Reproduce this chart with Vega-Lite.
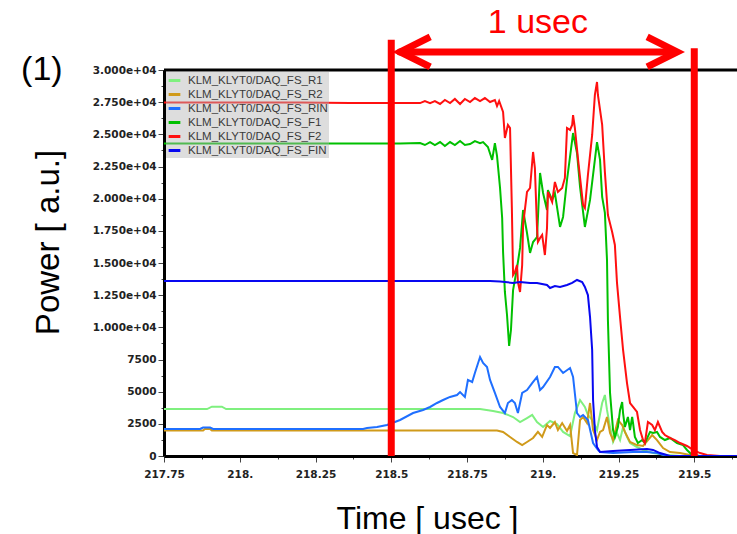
{
  "$schema": "https://vega.github.io/schema/vega-lite/v6.json",
  "width": 573,
  "height": 386,
  "autosize": {"type": "none"},
  "padding": {"left": 164, "top": 70, "right": 0, "bottom": 78},
  "background": "white",
  "config": {"view": {"stroke": null}, "font": "Liberation Sans"},
  "layer": [
    {
      "data": {"values": [
        {"s":"KLM_KLYT0/DAQ_FS_R1","t":217.75,"p":3650},
        {"s":"KLM_KLYT0/DAQ_FS_R1","t":217.892,"p":3650},
        {"s":"KLM_KLYT0/DAQ_FS_R1","t":217.908,"p":3830},
        {"s":"KLM_KLYT0/DAQ_FS_R1","t":217.941,"p":3830},
        {"s":"KLM_KLYT0/DAQ_FS_R1","t":217.955,"p":3650},
        {"s":"KLM_KLYT0/DAQ_FS_R1","t":218.793,"p":3650},
        {"s":"KLM_KLYT0/DAQ_FS_R1","t":218.836,"p":3500},
        {"s":"KLM_KLYT0/DAQ_FS_R1","t":218.869,"p":3340},
        {"s":"KLM_KLYT0/DAQ_FS_R1","t":218.902,"p":3030},
        {"s":"KLM_KLYT0/DAQ_FS_R1","t":218.925,"p":2640},
        {"s":"KLM_KLYT0/DAQ_FS_R1","t":218.948,"p":2950},
        {"s":"KLM_KLYT0/DAQ_FS_R1","t":218.965,"p":3190},
        {"s":"KLM_KLYT0/DAQ_FS_R1","t":218.981,"p":2640},
        {"s":"KLM_KLYT0/DAQ_FS_R1","t":219.001,"p":2250},
        {"s":"KLM_KLYT0/DAQ_FS_R1","t":219.024,"p":2720},
        {"s":"KLM_KLYT0/DAQ_FS_R1","t":219.047,"p":2490},
        {"s":"KLM_KLYT0/DAQ_FS_R1","t":219.067,"p":1870},
        {"s":"KLM_KLYT0/DAQ_FS_R1","t":219.09,"p":1550},
        {"s":"KLM_KLYT0/DAQ_FS_R1","t":219.106,"p":3340},
        {"s":"KLM_KLYT0/DAQ_FS_R1","t":219.123,"p":4350},
        {"s":"KLM_KLYT0/DAQ_FS_R1","t":219.139,"p":3810},
        {"s":"KLM_KLYT0/DAQ_FS_R1","t":219.149,"p":3190},
        {"s":"KLM_KLYT0/DAQ_FS_R1","t":219.163,"p":2800},
        {"s":"KLM_KLYT0/DAQ_FS_R1","t":219.179,"p":2020},
        {"s":"KLM_KLYT0/DAQ_FS_R1","t":219.196,"p":4120},
        {"s":"KLM_KLYT0/DAQ_FS_R1","t":219.205,"p":4740},
        {"s":"KLM_KLYT0/DAQ_FS_R1","t":219.212,"p":3580},
        {"s":"KLM_KLYT0/DAQ_FS_R1","t":219.222,"p":2250},
        {"s":"KLM_KLYT0/DAQ_FS_R1","t":219.232,"p":1090},
        {"s":"KLM_KLYT0/DAQ_FS_R1","t":219.245,"p":1790},
        {"s":"KLM_KLYT0/DAQ_FS_R1","t":219.255,"p":1240},
        {"s":"KLM_KLYT0/DAQ_FS_R1","t":219.265,"p":2250},
        {"s":"KLM_KLYT0/DAQ_FS_R1","t":219.278,"p":1480},
        {"s":"KLM_KLYT0/DAQ_FS_R1","t":219.288,"p":1010},
        {"s":"KLM_KLYT0/DAQ_FS_R1","t":219.311,"p":700},
        {"s":"KLM_KLYT0/DAQ_FS_R1","t":219.331,"p":470},
        {"s":"KLM_KLYT0/DAQ_FS_R1","t":219.364,"p":230},
        {"s":"KLM_KLYT0/DAQ_FS_R1","t":219.41,"p":80},
        {"s":"KLM_KLYT0/DAQ_FS_R1","t":219.453,"p":0},
        {"s":"KLM_KLYT0/DAQ_FS_R1","t":219.641,"p":0},

        {"s":"KLM_KLYT0/DAQ_FS_R2","t":217.75,"p":1980},
        {"s":"KLM_KLYT0/DAQ_FS_R2","t":217.879,"p":1980},
        {"s":"KLM_KLYT0/DAQ_FS_R2","t":217.885,"p":2100},
        {"s":"KLM_KLYT0/DAQ_FS_R2","t":217.902,"p":2100},
        {"s":"KLM_KLYT0/DAQ_FS_R2","t":217.908,"p":1980},
        {"s":"KLM_KLYT0/DAQ_FS_R2","t":218.849,"p":1980},
        {"s":"KLM_KLYT0/DAQ_FS_R2","t":218.869,"p":1870},
        {"s":"KLM_KLYT0/DAQ_FS_R2","t":218.892,"p":1480},
        {"s":"KLM_KLYT0/DAQ_FS_R2","t":218.915,"p":1090},
        {"s":"KLM_KLYT0/DAQ_FS_R2","t":218.932,"p":850},
        {"s":"KLM_KLYT0/DAQ_FS_R2","t":218.948,"p":1090},
        {"s":"KLM_KLYT0/DAQ_FS_R2","t":218.968,"p":1400},
        {"s":"KLM_KLYT0/DAQ_FS_R2","t":218.984,"p":1870},
        {"s":"KLM_KLYT0/DAQ_FS_R2","t":218.998,"p":1480},
        {"s":"KLM_KLYT0/DAQ_FS_R2","t":219.014,"p":2410},
        {"s":"KLM_KLYT0/DAQ_FS_R2","t":219.024,"p":2180},
        {"s":"KLM_KLYT0/DAQ_FS_R2","t":219.04,"p":2640},
        {"s":"KLM_KLYT0/DAQ_FS_R2","t":219.05,"p":2020},
        {"s":"KLM_KLYT0/DAQ_FS_R2","t":219.064,"p":2560},
        {"s":"KLM_KLYT0/DAQ_FS_R2","t":219.08,"p":1940},
        {"s":"KLM_KLYT0/DAQ_FS_R2","t":219.09,"p":2410},
        {"s":"KLM_KLYT0/DAQ_FS_R2","t":219.1,"p":230},
        {"s":"KLM_KLYT0/DAQ_FS_R2","t":219.113,"p":80},
        {"s":"KLM_KLYT0/DAQ_FS_R2","t":219.123,"p":2800},
        {"s":"KLM_KLYT0/DAQ_FS_R2","t":219.133,"p":3030},
        {"s":"KLM_KLYT0/DAQ_FS_R2","t":219.146,"p":2560},
        {"s":"KLM_KLYT0/DAQ_FS_R2","t":219.156,"p":4120},
        {"s":"KLM_KLYT0/DAQ_FS_R2","t":219.166,"p":2020},
        {"s":"KLM_KLYT0/DAQ_FS_R2","t":219.179,"p":1240},
        {"s":"KLM_KLYT0/DAQ_FS_R2","t":219.189,"p":1870},
        {"s":"KLM_KLYT0/DAQ_FS_R2","t":219.199,"p":2020},
        {"s":"KLM_KLYT0/DAQ_FS_R2","t":219.212,"p":3030},
        {"s":"KLM_KLYT0/DAQ_FS_R2","t":219.222,"p":1790},
        {"s":"KLM_KLYT0/DAQ_FS_R2","t":219.232,"p":1240},
        {"s":"KLM_KLYT0/DAQ_FS_R2","t":219.248,"p":2800},
        {"s":"KLM_KLYT0/DAQ_FS_R2","t":219.262,"p":2410},
        {"s":"KLM_KLYT0/DAQ_FS_R2","t":219.271,"p":1870},
        {"s":"KLM_KLYT0/DAQ_FS_R2","t":219.288,"p":1090},
        {"s":"KLM_KLYT0/DAQ_FS_R2","t":219.311,"p":850},
        {"s":"KLM_KLYT0/DAQ_FS_R2","t":219.331,"p":780},
        {"s":"KLM_KLYT0/DAQ_FS_R2","t":219.361,"p":1630},
        {"s":"KLM_KLYT0/DAQ_FS_R2","t":219.377,"p":1240},
        {"s":"KLM_KLYT0/DAQ_FS_R2","t":219.397,"p":620},
        {"s":"KLM_KLYT0/DAQ_FS_R2","t":219.42,"p":310},
        {"s":"KLM_KLYT0/DAQ_FS_R2","t":219.453,"p":230},
        {"s":"KLM_KLYT0/DAQ_FS_R2","t":219.486,"p":80},
        {"s":"KLM_KLYT0/DAQ_FS_R2","t":219.519,"p":0},
        {"s":"KLM_KLYT0/DAQ_FS_R2","t":219.641,"p":0},

        {"s":"KLM_KLYT0/DAQ_FS_RIN","t":217.75,"p":2100},
        {"s":"KLM_KLYT0/DAQ_FS_RIN","t":217.869,"p":2100},
        {"s":"KLM_KLYT0/DAQ_FS_RIN","t":217.879,"p":2215},
        {"s":"KLM_KLYT0/DAQ_FS_RIN","t":217.902,"p":2215},
        {"s":"KLM_KLYT0/DAQ_FS_RIN","t":217.912,"p":2100},
        {"s":"KLM_KLYT0/DAQ_FS_RIN","t":218.407,"p":2100},
        {"s":"KLM_KLYT0/DAQ_FS_RIN","t":218.42,"p":2180},
        {"s":"KLM_KLYT0/DAQ_FS_RIN","t":218.453,"p":2250},
        {"s":"KLM_KLYT0/DAQ_FS_RIN","t":218.486,"p":2410},
        {"s":"KLM_KLYT0/DAQ_FS_RIN","t":218.529,"p":2800},
        {"s":"KLM_KLYT0/DAQ_FS_RIN","t":218.572,"p":3340},
        {"s":"KLM_KLYT0/DAQ_FS_RIN","t":218.605,"p":3580},
        {"s":"KLM_KLYT0/DAQ_FS_RIN","t":218.628,"p":3810},
        {"s":"KLM_KLYT0/DAQ_FS_RIN","t":218.651,"p":4120},
        {"s":"KLM_KLYT0/DAQ_FS_RIN","t":218.671,"p":4350},
        {"s":"KLM_KLYT0/DAQ_FS_RIN","t":218.694,"p":4590},
        {"s":"KLM_KLYT0/DAQ_FS_RIN","t":218.717,"p":4740},
        {"s":"KLM_KLYT0/DAQ_FS_RIN","t":218.727,"p":4970},
        {"s":"KLM_KLYT0/DAQ_FS_RIN","t":218.743,"p":4590},
        {"s":"KLM_KLYT0/DAQ_FS_RIN","t":218.753,"p":5910},
        {"s":"KLM_KLYT0/DAQ_FS_RIN","t":218.767,"p":5750},
        {"s":"KLM_KLYT0/DAQ_FS_RIN","t":218.776,"p":6450},
        {"s":"KLM_KLYT0/DAQ_FS_RIN","t":218.793,"p":7690},
        {"s":"KLM_KLYT0/DAQ_FS_RIN","t":218.803,"p":7230},
        {"s":"KLM_KLYT0/DAQ_FS_RIN","t":218.816,"p":6920},
        {"s":"KLM_KLYT0/DAQ_FS_RIN","t":218.826,"p":5910},
        {"s":"KLM_KLYT0/DAQ_FS_RIN","t":218.842,"p":4900},
        {"s":"KLM_KLYT0/DAQ_FS_RIN","t":218.859,"p":3810},
        {"s":"KLM_KLYT0/DAQ_FS_RIN","t":218.875,"p":3340},
        {"s":"KLM_KLYT0/DAQ_FS_RIN","t":218.885,"p":4120},
        {"s":"KLM_KLYT0/DAQ_FS_RIN","t":218.898,"p":4350},
        {"s":"KLM_KLYT0/DAQ_FS_RIN","t":218.908,"p":4120},
        {"s":"KLM_KLYT0/DAQ_FS_RIN","t":218.918,"p":3340},
        {"s":"KLM_KLYT0/DAQ_FS_RIN","t":218.932,"p":4900},
        {"s":"KLM_KLYT0/DAQ_FS_RIN","t":218.948,"p":5130},
        {"s":"KLM_KLYT0/DAQ_FS_RIN","t":218.965,"p":5670},
        {"s":"KLM_KLYT0/DAQ_FS_RIN","t":218.981,"p":6140},
        {"s":"KLM_KLYT0/DAQ_FS_RIN","t":218.991,"p":5130},
        {"s":"KLM_KLYT0/DAQ_FS_RIN","t":219.001,"p":5360},
        {"s":"KLM_KLYT0/DAQ_FS_RIN","t":219.024,"p":6140},
        {"s":"KLM_KLYT0/DAQ_FS_RIN","t":219.04,"p":6920},
        {"s":"KLM_KLYT0/DAQ_FS_RIN","t":219.05,"p":6920},
        {"s":"KLM_KLYT0/DAQ_FS_RIN","t":219.067,"p":6450},
        {"s":"KLM_KLYT0/DAQ_FS_RIN","t":219.09,"p":6840},
        {"s":"KLM_KLYT0/DAQ_FS_RIN","t":219.1,"p":6140},
        {"s":"KLM_KLYT0/DAQ_FS_RIN","t":219.113,"p":3340},
        {"s":"KLM_KLYT0/DAQ_FS_RIN","t":219.123,"p":3030},
        {"s":"KLM_KLYT0/DAQ_FS_RIN","t":219.133,"p":3190},
        {"s":"KLM_KLYT0/DAQ_FS_RIN","t":219.149,"p":2800},
        {"s":"KLM_KLYT0/DAQ_FS_RIN","t":219.166,"p":1010},
        {"s":"KLM_KLYT0/DAQ_FS_RIN","t":219.182,"p":470},
        {"s":"KLM_KLYT0/DAQ_FS_RIN","t":219.189,"p":310},
        {"s":"KLM_KLYT0/DAQ_FS_RIN","t":219.232,"p":230},
        {"s":"KLM_KLYT0/DAQ_FS_RIN","t":219.298,"p":310},
        {"s":"KLM_KLYT0/DAQ_FS_RIN","t":219.344,"p":310},
        {"s":"KLM_KLYT0/DAQ_FS_RIN","t":219.377,"p":230},
        {"s":"KLM_KLYT0/DAQ_FS_RIN","t":219.41,"p":0},
        {"s":"KLM_KLYT0/DAQ_FS_RIN","t":219.641,"p":0},

        {"s":"KLM_KLYT0/DAQ_FS_F1","t":217.75,"p":24290},
        {"s":"KLM_KLYT0/DAQ_FS_F1","t":218.199,"p":24290},
        {"s":"KLM_KLYT0/DAQ_FS_F1","t":218.529,"p":24290},
        {"s":"KLM_KLYT0/DAQ_FS_F1","t":218.595,"p":24320},
        {"s":"KLM_KLYT0/DAQ_FS_F1","t":218.611,"p":24170},
        {"s":"KLM_KLYT0/DAQ_FS_F1","t":218.628,"p":24400},
        {"s":"KLM_KLYT0/DAQ_FS_F1","t":218.644,"p":24170},
        {"s":"KLM_KLYT0/DAQ_FS_F1","t":218.661,"p":24400},
        {"s":"KLM_KLYT0/DAQ_FS_F1","t":218.677,"p":24090},
        {"s":"KLM_KLYT0/DAQ_FS_F1","t":218.694,"p":24400},
        {"s":"KLM_KLYT0/DAQ_FS_F1","t":218.71,"p":24170},
        {"s":"KLM_KLYT0/DAQ_FS_F1","t":218.727,"p":24480},
        {"s":"KLM_KLYT0/DAQ_FS_F1","t":218.743,"p":24170},
        {"s":"KLM_KLYT0/DAQ_FS_F1","t":218.76,"p":24250},
        {"s":"KLM_KLYT0/DAQ_FS_F1","t":218.776,"p":24480},
        {"s":"KLM_KLYT0/DAQ_FS_F1","t":218.793,"p":24320},
        {"s":"KLM_KLYT0/DAQ_FS_F1","t":218.803,"p":24400},
        {"s":"KLM_KLYT0/DAQ_FS_F1","t":218.819,"p":24020},
        {"s":"KLM_KLYT0/DAQ_FS_F1","t":218.833,"p":23010},
        {"s":"KLM_KLYT0/DAQ_FS_F1","t":218.842,"p":24320},
        {"s":"KLM_KLYT0/DAQ_FS_F1","t":218.849,"p":23320},
        {"s":"KLM_KLYT0/DAQ_FS_F1","t":218.859,"p":20830},
        {"s":"KLM_KLYT0/DAQ_FS_F1","t":218.866,"p":18500},
        {"s":"KLM_KLYT0/DAQ_FS_F1","t":218.869,"p":15850},
        {"s":"KLM_KLYT0/DAQ_FS_F1","t":218.875,"p":12750},
        {"s":"KLM_KLYT0/DAQ_FS_F1","t":218.882,"p":10960},
        {"s":"KLM_KLYT0/DAQ_FS_F1","t":218.889,"p":8550},
        {"s":"KLM_KLYT0/DAQ_FS_F1","t":218.895,"p":9790},
        {"s":"KLM_KLYT0/DAQ_FS_F1","t":218.902,"p":12900},
        {"s":"KLM_KLYT0/DAQ_FS_F1","t":218.915,"p":14610},
        {"s":"KLM_KLYT0/DAQ_FS_F1","t":218.925,"p":16170},
        {"s":"KLM_KLYT0/DAQ_FS_F1","t":218.935,"p":19120},
        {"s":"KLM_KLYT0/DAQ_FS_F1","t":218.948,"p":17330},
        {"s":"KLM_KLYT0/DAQ_FS_F1","t":218.958,"p":15780},
        {"s":"KLM_KLYT0/DAQ_FS_F1","t":218.968,"p":16630},
        {"s":"KLM_KLYT0/DAQ_FS_F1","t":218.981,"p":17020},
        {"s":"KLM_KLYT0/DAQ_FS_F1","t":218.991,"p":22000},
        {"s":"KLM_KLYT0/DAQ_FS_F1","t":219.001,"p":20440},
        {"s":"KLM_KLYT0/DAQ_FS_F1","t":219.014,"p":19120},
        {"s":"KLM_KLYT0/DAQ_FS_F1","t":219.017,"p":20670},
        {"s":"KLM_KLYT0/DAQ_FS_F1","t":219.031,"p":19900},
        {"s":"KLM_KLYT0/DAQ_FS_F1","t":219.04,"p":20440},
        {"s":"KLM_KLYT0/DAQ_FS_F1","t":219.057,"p":17800},
        {"s":"KLM_KLYT0/DAQ_FS_F1","t":219.067,"p":18580},
        {"s":"KLM_KLYT0/DAQ_FS_F1","t":219.08,"p":21450},
        {"s":"KLM_KLYT0/DAQ_FS_F1","t":219.1,"p":25100},
        {"s":"KLM_KLYT0/DAQ_FS_F1","t":219.113,"p":23550},
        {"s":"KLM_KLYT0/DAQ_FS_F1","t":219.123,"p":20910},
        {"s":"KLM_KLYT0/DAQ_FS_F1","t":219.139,"p":17800},
        {"s":"KLM_KLYT0/DAQ_FS_F1","t":219.156,"p":19900},
        {"s":"KLM_KLYT0/DAQ_FS_F1","t":219.179,"p":24400},
        {"s":"KLM_KLYT0/DAQ_FS_F1","t":219.189,"p":23010},
        {"s":"KLM_KLYT0/DAQ_FS_F1","t":219.196,"p":20130},
        {"s":"KLM_KLYT0/DAQ_FS_F1","t":219.205,"p":18890},
        {"s":"KLM_KLYT0/DAQ_FS_F1","t":219.212,"p":15230},
        {"s":"KLM_KLYT0/DAQ_FS_F1","t":219.215,"p":10570},
        {"s":"KLM_KLYT0/DAQ_FS_F1","t":219.222,"p":4900},
        {"s":"KLM_KLYT0/DAQ_FS_F1","t":219.232,"p":2020},
        {"s":"KLM_KLYT0/DAQ_FS_F1","t":219.238,"p":1480},
        {"s":"KLM_KLYT0/DAQ_FS_F1","t":219.248,"p":2250},
        {"s":"KLM_KLYT0/DAQ_FS_F1","t":219.255,"p":3580},
        {"s":"KLM_KLYT0/DAQ_FS_F1","t":219.262,"p":4200},
        {"s":"KLM_KLYT0/DAQ_FS_F1","t":219.265,"p":3340},
        {"s":"KLM_KLYT0/DAQ_FS_F1","t":219.271,"p":2250},
        {"s":"KLM_KLYT0/DAQ_FS_F1","t":219.281,"p":3030},
        {"s":"KLM_KLYT0/DAQ_FS_F1","t":219.288,"p":2020},
        {"s":"KLM_KLYT0/DAQ_FS_F1","t":219.295,"p":3030},
        {"s":"KLM_KLYT0/DAQ_FS_F1","t":219.298,"p":2560},
        {"s":"KLM_KLYT0/DAQ_FS_F1","t":219.304,"p":1480},
        {"s":"KLM_KLYT0/DAQ_FS_F1","t":219.314,"p":1010},
        {"s":"KLM_KLYT0/DAQ_FS_F1","t":219.328,"p":1240},
        {"s":"KLM_KLYT0/DAQ_FS_F1","t":219.337,"p":1010},
        {"s":"KLM_KLYT0/DAQ_FS_F1","t":219.354,"p":1870},
        {"s":"KLM_KLYT0/DAQ_FS_F1","t":219.364,"p":1790},
        {"s":"KLM_KLYT0/DAQ_FS_F1","t":219.377,"p":1870},
        {"s":"KLM_KLYT0/DAQ_FS_F1","t":219.387,"p":1480},
        {"s":"KLM_KLYT0/DAQ_FS_F1","t":219.403,"p":1240},
        {"s":"KLM_KLYT0/DAQ_FS_F1","t":219.42,"p":1400},
        {"s":"KLM_KLYT0/DAQ_FS_F1","t":219.443,"p":1010},
        {"s":"KLM_KLYT0/DAQ_FS_F1","t":219.463,"p":850},
        {"s":"KLM_KLYT0/DAQ_FS_F1","t":219.476,"p":470},
        {"s":"KLM_KLYT0/DAQ_FS_F1","t":219.493,"p":80},
        {"s":"KLM_KLYT0/DAQ_FS_F1","t":219.519,"p":0},
        {"s":"KLM_KLYT0/DAQ_FS_F1","t":219.641,"p":0},

        {"s":"KLM_KLYT0/DAQ_FS_F2","t":217.75,"p":27470},
        {"s":"KLM_KLYT0/DAQ_FS_F2","t":218.034,"p":27470},
        {"s":"KLM_KLYT0/DAQ_FS_F2","t":218.199,"p":27470},
        {"s":"KLM_KLYT0/DAQ_FS_F2","t":218.364,"p":27430},
        {"s":"KLM_KLYT0/DAQ_FS_F2","t":218.529,"p":27430},
        {"s":"KLM_KLYT0/DAQ_FS_F2","t":218.595,"p":27430},
        {"s":"KLM_KLYT0/DAQ_FS_F2","t":218.611,"p":27590},
        {"s":"KLM_KLYT0/DAQ_FS_F2","t":218.628,"p":27430},
        {"s":"KLM_KLYT0/DAQ_FS_F2","t":218.644,"p":27590},
        {"s":"KLM_KLYT0/DAQ_FS_F2","t":218.661,"p":27360},
        {"s":"KLM_KLYT0/DAQ_FS_F2","t":218.677,"p":27670},
        {"s":"KLM_KLYT0/DAQ_FS_F2","t":218.694,"p":27430},
        {"s":"KLM_KLYT0/DAQ_FS_F2","t":218.71,"p":27750},
        {"s":"KLM_KLYT0/DAQ_FS_F2","t":218.727,"p":27360},
        {"s":"KLM_KLYT0/DAQ_FS_F2","t":218.743,"p":27750},
        {"s":"KLM_KLYT0/DAQ_FS_F2","t":218.76,"p":27510},
        {"s":"KLM_KLYT0/DAQ_FS_F2","t":218.776,"p":27820},
        {"s":"KLM_KLYT0/DAQ_FS_F2","t":218.793,"p":27590},
        {"s":"KLM_KLYT0/DAQ_FS_F2","t":218.809,"p":27820},
        {"s":"KLM_KLYT0/DAQ_FS_F2","t":218.826,"p":27510},
        {"s":"KLM_KLYT0/DAQ_FS_F2","t":218.842,"p":27670},
        {"s":"KLM_KLYT0/DAQ_FS_F2","t":218.849,"p":27200},
        {"s":"KLM_KLYT0/DAQ_FS_F2","t":218.856,"p":27590},
        {"s":"KLM_KLYT0/DAQ_FS_F2","t":218.869,"p":26740},
        {"s":"KLM_KLYT0/DAQ_FS_F2","t":218.875,"p":24720},
        {"s":"KLM_KLYT0/DAQ_FS_F2","t":218.885,"p":25730},
        {"s":"KLM_KLYT0/DAQ_FS_F2","t":218.892,"p":25490},
        {"s":"KLM_KLYT0/DAQ_FS_F2","t":218.898,"p":19270},
        {"s":"KLM_KLYT0/DAQ_FS_F2","t":218.902,"p":14070},
        {"s":"KLM_KLYT0/DAQ_FS_F2","t":218.908,"p":14300},
        {"s":"KLM_KLYT0/DAQ_FS_F2","t":218.915,"p":14840},
        {"s":"KLM_KLYT0/DAQ_FS_F2","t":218.918,"p":13520},
        {"s":"KLM_KLYT0/DAQ_FS_F2","t":218.925,"p":12750},
        {"s":"KLM_KLYT0/DAQ_FS_F2","t":218.932,"p":14840},
        {"s":"KLM_KLYT0/DAQ_FS_F2","t":218.935,"p":17950},
        {"s":"KLM_KLYT0/DAQ_FS_F2","t":218.948,"p":20520},
        {"s":"KLM_KLYT0/DAQ_FS_F2","t":218.958,"p":20830},
        {"s":"KLM_KLYT0/DAQ_FS_F2","t":218.968,"p":23630},
        {"s":"KLM_KLYT0/DAQ_FS_F2","t":218.974,"p":22380},
        {"s":"KLM_KLYT0/DAQ_FS_F2","t":218.981,"p":17720},
        {"s":"KLM_KLYT0/DAQ_FS_F2","t":218.984,"p":16630},
        {"s":"KLM_KLYT0/DAQ_FS_F2","t":218.991,"p":16940},
        {"s":"KLM_KLYT0/DAQ_FS_F2","t":218.998,"p":17180},
        {"s":"KLM_KLYT0/DAQ_FS_F2","t":219.007,"p":15620},
        {"s":"KLM_KLYT0/DAQ_FS_F2","t":219.014,"p":17720},
        {"s":"KLM_KLYT0/DAQ_FS_F2","t":219.017,"p":20520},
        {"s":"KLM_KLYT0/DAQ_FS_F2","t":219.031,"p":19740},
        {"s":"KLM_KLYT0/DAQ_FS_F2","t":219.04,"p":21300},
        {"s":"KLM_KLYT0/DAQ_FS_F2","t":219.05,"p":20520},
        {"s":"KLM_KLYT0/DAQ_FS_F2","t":219.064,"p":20830},
        {"s":"KLM_KLYT0/DAQ_FS_F2","t":219.073,"p":21610},
        {"s":"KLM_KLYT0/DAQ_FS_F2","t":219.08,"p":25490},
        {"s":"KLM_KLYT0/DAQ_FS_F2","t":219.09,"p":25340},
        {"s":"KLM_KLYT0/DAQ_FS_F2","t":219.097,"p":25730},
        {"s":"KLM_KLYT0/DAQ_FS_F2","t":219.1,"p":26500},
        {"s":"KLM_KLYT0/DAQ_FS_F2","t":219.106,"p":25490},
        {"s":"KLM_KLYT0/DAQ_FS_F2","t":219.116,"p":23160},
        {"s":"KLM_KLYT0/DAQ_FS_F2","t":219.133,"p":19510},
        {"s":"KLM_KLYT0/DAQ_FS_F2","t":219.139,"p":19270},
        {"s":"KLM_KLYT0/DAQ_FS_F2","t":219.149,"p":21840},
        {"s":"KLM_KLYT0/DAQ_FS_F2","t":219.163,"p":24950},
        {"s":"KLM_KLYT0/DAQ_FS_F2","t":219.172,"p":28060},
        {"s":"KLM_KLYT0/DAQ_FS_F2","t":219.179,"p":29070},
        {"s":"KLM_KLYT0/DAQ_FS_F2","t":219.182,"p":28060},
        {"s":"KLM_KLYT0/DAQ_FS_F2","t":219.196,"p":25730},
        {"s":"KLM_KLYT0/DAQ_FS_F2","t":219.205,"p":22070},
        {"s":"KLM_KLYT0/DAQ_FS_F2","t":219.215,"p":18730},
        {"s":"KLM_KLYT0/DAQ_FS_F2","t":219.229,"p":17410},
        {"s":"KLM_KLYT0/DAQ_FS_F2","t":219.238,"p":16400},
        {"s":"KLM_KLYT0/DAQ_FS_F2","t":219.245,"p":13450},
        {"s":"KLM_KLYT0/DAQ_FS_F2","t":219.255,"p":10800},
        {"s":"KLM_KLYT0/DAQ_FS_F2","t":219.265,"p":8240},
        {"s":"KLM_KLYT0/DAQ_FS_F2","t":219.278,"p":5670},
        {"s":"KLM_KLYT0/DAQ_FS_F2","t":219.288,"p":4120},
        {"s":"KLM_KLYT0/DAQ_FS_F2","t":219.298,"p":3810},
        {"s":"KLM_KLYT0/DAQ_FS_F2","t":219.311,"p":3420},
        {"s":"KLM_KLYT0/DAQ_FS_F2","t":219.321,"p":2020},
        {"s":"KLM_KLYT0/DAQ_FS_F2","t":219.331,"p":1240},
        {"s":"KLM_KLYT0/DAQ_FS_F2","t":219.337,"p":1010},
        {"s":"KLM_KLYT0/DAQ_FS_F2","t":219.347,"p":2640},
        {"s":"KLM_KLYT0/DAQ_FS_F2","t":219.361,"p":2410},
        {"s":"KLM_KLYT0/DAQ_FS_F2","t":219.37,"p":2020},
        {"s":"KLM_KLYT0/DAQ_FS_F2","t":219.38,"p":2640},
        {"s":"KLM_KLYT0/DAQ_FS_F2","t":219.394,"p":1870},
        {"s":"KLM_KLYT0/DAQ_FS_F2","t":219.403,"p":1630},
        {"s":"KLM_KLYT0/DAQ_FS_F2","t":219.42,"p":1400},
        {"s":"KLM_KLYT0/DAQ_FS_F2","t":219.436,"p":1240},
        {"s":"KLM_KLYT0/DAQ_FS_F2","t":219.453,"p":1010},
        {"s":"KLM_KLYT0/DAQ_FS_F2","t":219.476,"p":780},
        {"s":"KLM_KLYT0/DAQ_FS_F2","t":219.496,"p":470},
        {"s":"KLM_KLYT0/DAQ_FS_F2","t":219.519,"p":230},
        {"s":"KLM_KLYT0/DAQ_FS_F2","t":219.542,"p":80},
        {"s":"KLM_KLYT0/DAQ_FS_F2","t":219.585,"p":0},
        {"s":"KLM_KLYT0/DAQ_FS_F2","t":219.641,"p":0},

        {"s":"KLM_KLYT0/DAQ_FS_FIN","t":217.75,"p":13600},
        {"s":"KLM_KLYT0/DAQ_FS_FIN","t":218.826,"p":13600},
        {"s":"KLM_KLYT0/DAQ_FS_FIN","t":218.859,"p":13560},
        {"s":"KLM_KLYT0/DAQ_FS_FIN","t":218.902,"p":13450},
        {"s":"KLM_KLYT0/DAQ_FS_FIN","t":218.925,"p":13520},
        {"s":"KLM_KLYT0/DAQ_FS_FIN","t":218.958,"p":13450},
        {"s":"KLM_KLYT0/DAQ_FS_FIN","t":218.981,"p":13450},
        {"s":"KLM_KLYT0/DAQ_FS_FIN","t":219.014,"p":13290},
        {"s":"KLM_KLYT0/DAQ_FS_FIN","t":219.024,"p":13060},
        {"s":"KLM_KLYT0/DAQ_FS_FIN","t":219.04,"p":13210},
        {"s":"KLM_KLYT0/DAQ_FS_FIN","t":219.057,"p":13140},
        {"s":"KLM_KLYT0/DAQ_FS_FIN","t":219.08,"p":13290},
        {"s":"KLM_KLYT0/DAQ_FS_FIN","t":219.097,"p":13450},
        {"s":"KLM_KLYT0/DAQ_FS_FIN","t":219.113,"p":13680},
        {"s":"KLM_KLYT0/DAQ_FS_FIN","t":219.13,"p":13520},
        {"s":"KLM_KLYT0/DAQ_FS_FIN","t":219.139,"p":13140},
        {"s":"KLM_KLYT0/DAQ_FS_FIN","t":219.149,"p":12510},
        {"s":"KLM_KLYT0/DAQ_FS_FIN","t":219.156,"p":10800},
        {"s":"KLM_KLYT0/DAQ_FS_FIN","t":219.163,"p":8240},
        {"s":"KLM_KLYT0/DAQ_FS_FIN","t":219.166,"p":4350},
        {"s":"KLM_KLYT0/DAQ_FS_FIN","t":219.172,"p":2020},
        {"s":"KLM_KLYT0/DAQ_FS_FIN","t":219.179,"p":700},
        {"s":"KLM_KLYT0/DAQ_FS_FIN","t":219.189,"p":310},
        {"s":"KLM_KLYT0/DAQ_FS_FIN","t":219.232,"p":390},
        {"s":"KLM_KLYT0/DAQ_FS_FIN","t":219.288,"p":470},
        {"s":"KLM_KLYT0/DAQ_FS_FIN","t":219.344,"p":540},
        {"s":"KLM_KLYT0/DAQ_FS_FIN","t":219.364,"p":470},
        {"s":"KLM_KLYT0/DAQ_FS_FIN","t":219.387,"p":230},
        {"s":"KLM_KLYT0/DAQ_FS_FIN","t":219.42,"p":0},
        {"s":"KLM_KLYT0/DAQ_FS_FIN","t":219.641,"p":0}
      ]},
      "mark": {"type": "line", "strokeWidth": 2, "clip": true},
      "encoding": {
        "x": {
          "field": "t", "type": "quantitative",
          "scale": {"domain": [217.75, 219.641], "nice": false, "zero": false},
          "axis": {
            "orient": "bottom",
            "values": [217.75, 217.875, 218, 218.125, 218.25, 218.375, 218.5, 218.625, 218.75, 218.875, 219, 219.125, 219.25, 219.375, 219.5, 219.625],
            "tickCount": 100,
            "labelExpr": "abs(datum.value*4 - round(datum.value*4)) > 0.01 ? '' : (abs(datum.value - round(datum.value)) < 0.001 ? format(datum.value, 'd') + '.' : format(datum.value, '.2~f'))",
            "tickSize": {"condition": {"test": "abs(datum.value*4 - round(datum.value*4)) < 0.01", "value": 6}, "value": 3},
            "tickColor": "#444", "tickWidth": 1,
            "domainColor": "black", "domainWidth": 3,
            "grid": false,
            "labelOverlap": false, "labelFlush": false,
            "labelFont": "DejaVu Sans", "labelFontWeight": "bold", "labelFontSize": 10.5, "labelColor": "#222",
            "labelPadding": 7,
            "title": "Time [ usec ]",
            "titleFont": "Liberation Sans", "titleFontSize": 32, "titleFontWeight": "normal", "titleColor": "black",
            "titleX": 263, "titleY": 72, "titleAlign": "center", "titleBaseline": "alphabetic"
          }
        },
        "y": {
          "field": "p", "type": "quantitative",
          "scale": {"domain": [0, 30000], "nice": false},
          "axis": {
            "values": [0, 1250, 2500, 3750, 5000, 6250, 7500, 8750, 10000, 11250, 12500, 13750, 15000, 16250, 17500, 18750, 20000, 21250, 22500, 23750, 25000, 26250, 27500, 28750, 30000],
            "tickCount": 100,
            "labelExpr": "datum.value % 2500 != 0 ? '' : (datum.value >= 10000 ? replace(format(datum.value, '.3e'), 'e+', 'e+0') : format(datum.value, 'd'))",
            "tickSize": {"condition": {"test": "datum.value % 2500 == 0", "value": 6}, "value": 3},
            "tickColor": "#444", "tickWidth": 1,
            "domainColor": "black", "domainWidth": 3,
            "grid": false,
            "labelOverlap": false, "labelFlush": false,
            "labelFont": "DejaVu Sans", "labelFontWeight": "bold", "labelFontSize": 10.5, "labelColor": "#222",
            "labelPadding": 2,
            "title": "Power [ a.u.]",
            "titleFont": "Liberation Sans", "titleFontSize": 33, "titleFontWeight": "normal", "titleColor": "black",
            "titleAngle": -90, "titleX": -106, "titleY": 172, "titleAlign": "center", "titleBaseline": "alphabetic"
          }
        },
        "color": {
          "field": "s", "type": "nominal",
          "scale": {
            "domain": ["KLM_KLYT0/DAQ_FS_R1", "KLM_KLYT0/DAQ_FS_R2", "KLM_KLYT0/DAQ_FS_RIN", "KLM_KLYT0/DAQ_FS_F1", "KLM_KLYT0/DAQ_FS_F2", "KLM_KLYT0/DAQ_FS_FIN"],
            "range": ["#7ff07f", "#d09a1a", "#1f6fff", "#00c000", "#ff1010", "#0808f0"]
          },
          "legend": {
            "orient": "top-left", "offset": 2, "title": null,
            "fillColor": "rgba(180,180,180,0.45)", "padding": 1,
            "symbolType": "stroke", "symbolSize": 137, "symbolStrokeWidth": 3,
            "labelFont": "Liberation Sans", "labelFontSize": 11.5, "labelColor": "#3a3a3a",
            "labelOffset": 6, "rowPadding": 0, "labelLimit": 300
          }
        }
      }
    },
    {
      "data": {"values": [{"t": 217.75, "t2": 219.641, "p": 30000}]},
      "mark": {"type": "rule", "color": "black", "strokeWidth": 3},
      "encoding": {
        "x": {"field": "t", "type": "quantitative"},
        "x2": {"field": "t2"},
        "y": {"field": "p", "type": "quantitative"}
      }
    },
    {
      "data": {"values": [{"t": 218.5, "bottom": 0, "top": 32350}, {"t": 219.5, "bottom": 0, "top": 31700}]},
      "mark": {"type": "rule", "color": "#ff0000", "strokeWidth": 7},
      "encoding": {
        "x": {"field": "t", "type": "quantitative"},
        "y": {"field": "bottom", "type": "quantitative"},
        "y2": {"field": "top"}
      }
    },
    {
      "data": {"values": [{"t": 218.529, "t2": 219.436, "p": 31400}]},
      "mark": {"type": "rule", "color": "#ff0000", "strokeWidth": 7, "strokeCap": "round"},
      "encoding": {
        "x": {"field": "t", "type": "quantitative"},
        "x2": {"field": "t2"},
        "y": {"field": "p", "type": "quantitative"}
      }
    },
    {
      "data": {"values": [{"t": 218.579, "p": 31400, "dir": "left"}, {"t": 219.394, "p": 31400, "dir": "right"}]},
      "mark": {"type": "point", "filled": false, "color": "#ff0000", "strokeWidth": 7, "size": 900, "opacity": 1},
      "encoding": {
        "x": {"field": "t", "type": "quantitative"},
        "y": {"field": "p", "type": "quantitative"},
        "shape": {"field": "dir", "type": "nominal", "scale": {"domain": ["left", "right"], "range": ["M1,-1L-1,0L1,1", "M-1,-1L1,0L-1,1"]}, "legend": null}
      }
    },
    {
      "data": {"values": [{"label": "1 usec", "t": 218.984, "p": 32875}]},
      "mark": {"type": "text", "color": "#ff0000", "font": "Liberation Sans", "fontSize": 34, "align": "center", "baseline": "alphabetic"},
      "encoding": {
        "x": {"field": "t", "type": "quantitative"},
        "y": {"field": "p", "type": "quantitative"},
        "text": {"field": "label", "type": "nominal"}
      }
    },
    {
      "data": {"values": [{"label": "(1)", "t": 217.347, "p": 29200}]},
      "mark": {"type": "text", "color": "black", "font": "Liberation Sans", "fontSize": 34, "align": "center", "baseline": "alphabetic"},
      "encoding": {
        "x": {"field": "t", "type": "quantitative"},
        "y": {"field": "p", "type": "quantitative"},
        "text": {"field": "label", "type": "nominal"}
      }
    }
  ]
}
